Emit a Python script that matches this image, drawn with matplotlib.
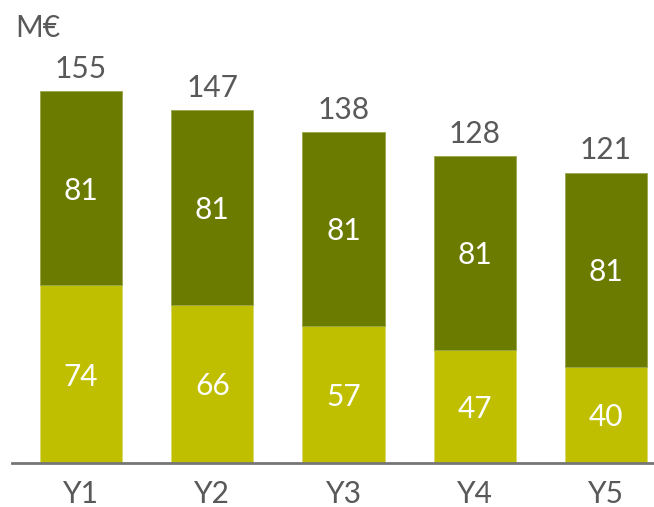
import matplotlib
matplotlib.use("Agg")
import matplotlib.pyplot as plt
from matplotlib import font_manager

categories = ["Y1", "Y2", "Y3", "Y4", "Y5"]
bottom_vals = [74, 66, 57, 47, 40]
top_vals = [81, 81, 81, 81, 81]
totals = [155, 147, 138, 128, 121]

names = {f.name for f in font_manager.fontManager.ttflist}
fam = "Lato" if "Lato" in names else "DejaVu Sans"
plt.rcParams['font.family'] = [fam, 'DejaVu Sans']

W, H = 654, 507
fig = plt.figure(figsize=(W/100, H/100), dpi=100)
ax = fig.add_axes([12/W, 44/H, 642/W, 419/H])

c_bot = "#BFBF00"
c_top = "#6B7B00"
txt = "#595959"
x = list(range(len(categories)))
width = 0.625
ax.bar(x, bottom_vals, width, color=c_bot, edgecolor="#D9D96A", linewidth=0.6)
ax.bar(x, top_vals, width, bottom=bottom_vals, color=c_top, edgecolor="#9AA64A", linewidth=0.6)

fs = 21.5
for i in x:
    ax.text(i, bottom_vals[i]/2, str(bottom_vals[i]), ha="center", va="center_baseline", color="white", fontsize=fs)
    ax.text(i, bottom_vals[i] + top_vals[i]/2, str(top_vals[i]), ha="center", va="center_baseline", color="white", fontsize=fs)
    ax.text(i, totals[i] + 3.4, str(totals[i]), ha="center", va="bottom", color=txt, fontsize=fs)

ax.set_xlim(-0.526, 4.366)
ax.set_ylim(0, 419/2.4)
ax.set_xticks(x)
ax.set_xticklabels(categories, fontsize=fs, color=txt)
ax.tick_params(axis="x", length=0, pad=12)
ax.set_yticks([])
for s in ["top", "right", "left"]:
    ax.spines[s].set_visible(False)
ax.spines["bottom"].set_color("#757575")
ax.spines["bottom"].set_linewidth(2)
for t in ax.texts:
    t.set_clip_on(False)

fig.text(15/W, 1 - 28/H, "M€", ha="left", va="center", color=txt, fontsize=fs)
fig.savefig("out.png", dpi=100)
